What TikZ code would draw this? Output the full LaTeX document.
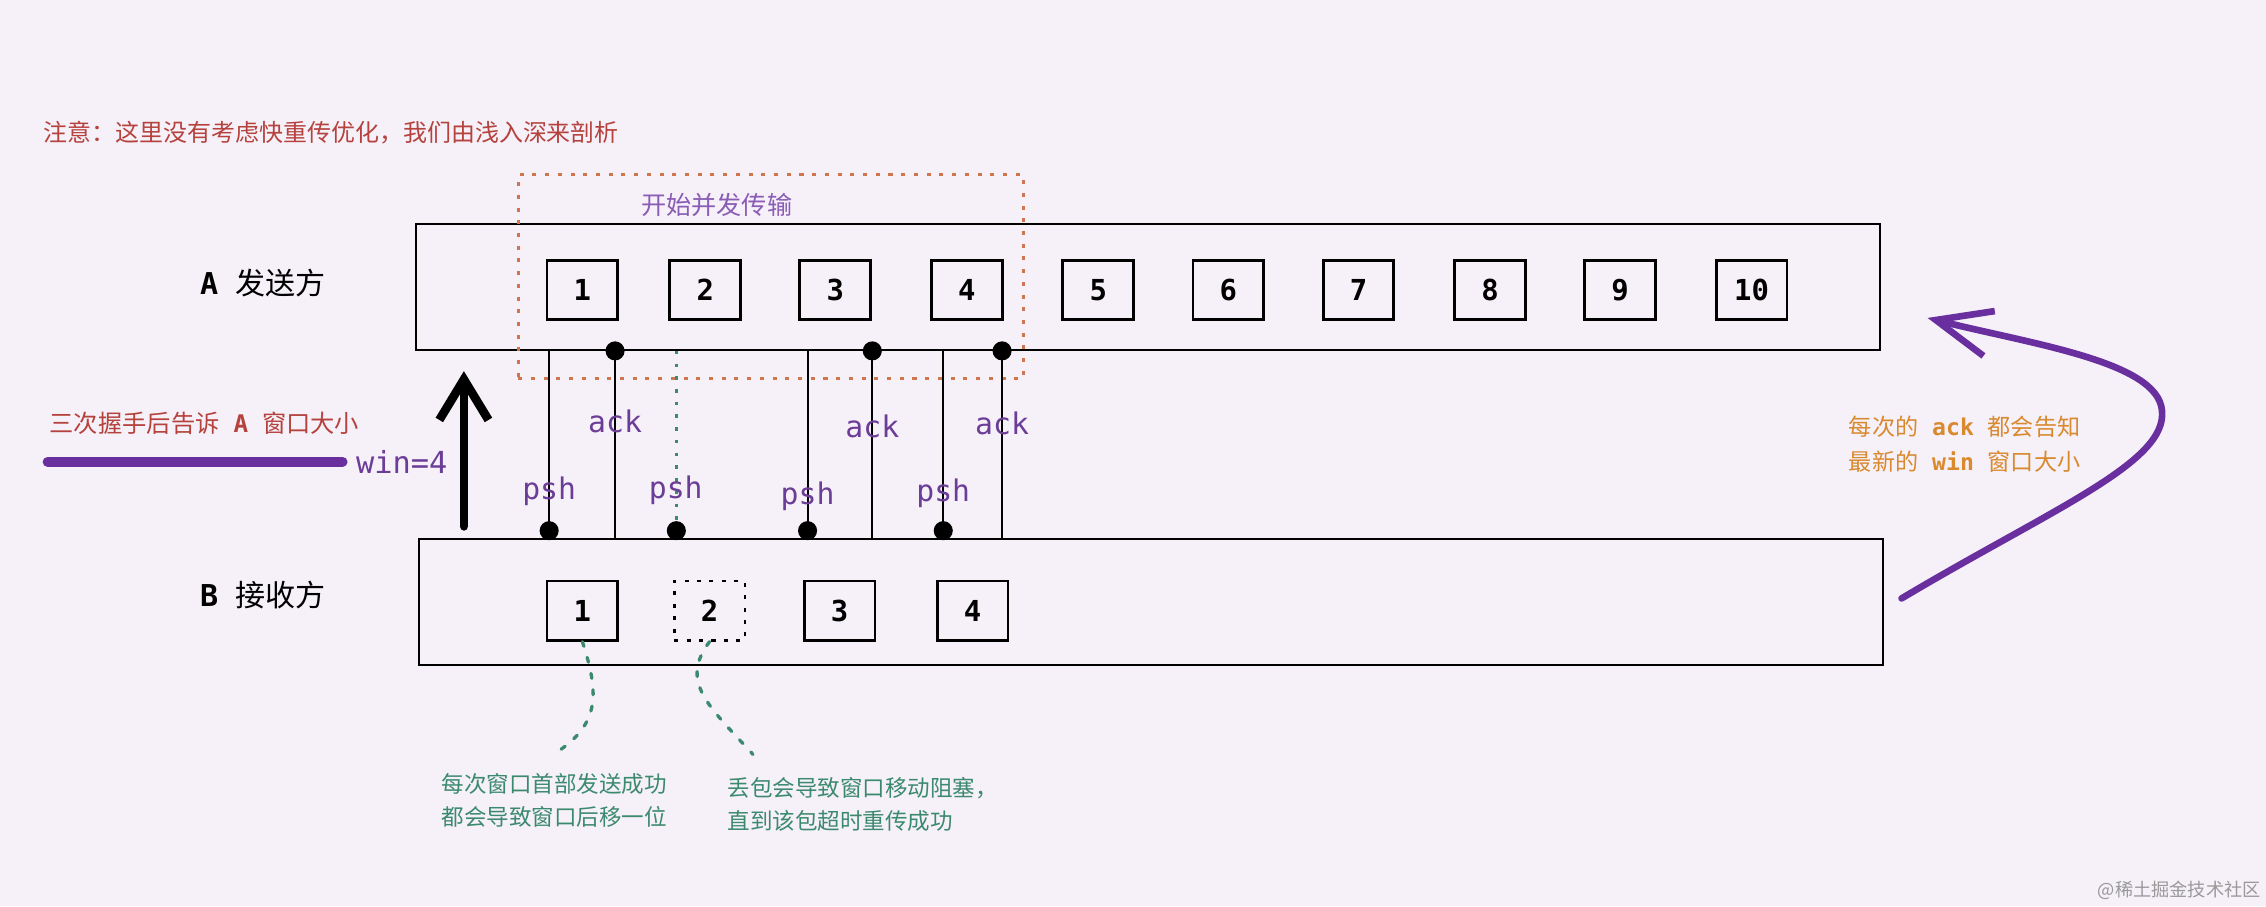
\documentclass[tikz,border=0pt]{standalone}
\usepackage{fontspec}
\setmainfont{Noto Sans CJK SC}
\newfontfamily\codefont{DejaVu Sans Mono}
\usetikzlibrary{arrows.meta,positioning,calc}
\definecolor{bgpurple}{HTML}{F6F0F9}
\definecolor{notered}{HTML}{B5423D}
\definecolor{tagpurple}{HTML}{6B3D96}
\definecolor{penpurple}{HTML}{6A2F9E}
\definecolor{flightpurple}{HTML}{8A5DB5}
\definecolor{hintteal}{HTML}{3C8A6E}
\definecolor{hintorange}{HTML}{D9892E}
\definecolor{dashorange}{HTML}{D0764F}

\tikzset{
  winbox/.style={draw, line width=0.8pt, minimum width=506.5pt, minimum height=43.5pt, inner sep=0pt},
  pkt/.style={draw, line width=1pt, minimum width=24.5pt, minimum height=20.5pt, inner sep=0pt,
    font=\codefont\bfseries\fontsize{10}{12}\selectfont},
  lostpkt/.style={dash pattern=on 1.4pt off 2.9pt},
  sidelabel/.style={inner sep=0pt, font=\fontsize{10.4}{12}\selectfont},
  seg/.style={line width=0.7pt},
  lostline/.style={hintteal, line width=0.9pt, dash pattern=on 1.2pt off 3.2pt},
  flight/.style={draw=dashorange, line width=1pt, dash pattern=on 1.4pt off 3pt,
    minimum width=174.7pt, minimum height=70.5pt, inner sep=0pt},
  tag/.style={text=tagpurple, inner sep=0pt, font=\codefont\fontsize{10.3}{12}\selectfont},
  pen/.style={line width=3pt, line cap=round},
  hintline/.style={hintteal, line width=1.15pt, line cap=round, dash pattern=on 1.7pt off 4pt},
  tealtext/.style={text=hintteal, inner sep=0pt, align=left, font=\fontsize{7.8}{11.5}\selectfont},
}

\begin{document}
\begin{tikzpicture}[x=0.5pt, y=-0.5pt]
  \fill[bgpurple] (0,0) rectangle (1568,627);
  \useasboundingbox (0,0) rectangle (1568,627);

  \node[inner sep=0pt, anchor=west, text=notered, font=\fontsize{8.3}{10}\selectfont] (note) at (29.5,92)
    {注意：这里没有考虑快重传优化，我们由浅入深来剖析};

  % sender and receiver
  \node[winbox] (A) at (794.5,198.5) {};
  \node[winbox] (B) at (796.5,416.5) {};
  \node[sidelabel] (Aname) at (182,196) {{\codefont\bfseries A}\hspace{6pt}发送方};
  \node[sidelabel] (Bname) at (182,412) {{\codefont\bfseries B}\hspace{6pt}接收方};

  \foreach \n/\x in {1/403,2/488,3/578,4/669,5/760,6/850,7/940,8/1031,9/1121,10/1212}
    \node[pkt] (a\n) at (\x,200.5) {\n};
  \node[pkt] (b1) at (403,422.5) {1};
  \node[pkt,lostpkt] (b2) at (491,422.5) {2};
  \node[pkt] (b3) at (581,422.5) {3};
  \node[pkt] (b4) at (673,422.5) {4};

  % window of 4 in flight
  \node[flight] (flight) at (533.3,191.5) {};
  \node[inner sep=0pt, text=flightpurple, font=\fontsize{8.7}{10}\selectfont] (flightname) at (496,142) {开始并发传输};

  % psh goes down, ack comes back
  \foreach \k/\x/\ty in {1/380/340,3/558.8/343.7,4/652.7/341.4} {
    \coordinate (psh\k) at (\x,0);
    \draw[seg] (psh\k |- A.south) -- (psh\k |- B.north);
    \fill (psh\k |- B.north) ++(0,-5) circle (3.3pt);
    \node[tag] (pshtag\k) at (\x,\ty) {psh};
  }
  \coordinate (psh2) at (468,0);
  \draw[lostline] (psh2 |- A.south) -- (psh2 |- B.north);
  \fill (psh2 |- B.north) ++(0,-5) circle (3.3pt);
  \node[tag] (pshtag2) at (467.6,339) {psh};

  \foreach \k/\x/\ty in {1/425.6/291.8,3/603.6/295.3,4/693.4/292.8} {
    \coordinate (ack\k) at (\x,0);
    \draw[seg] (ack\k |- A.south) -- (ack\k |- B.north);
    \fill (ack\k |- A.south) circle (3.3pt);
    \node[tag] (acktag\k) at (\x,\ty) {ack};
  }

  % handshake tells A the window
  \node[tag, font=\codefont\fontsize{10.5}{12}\selectfont] (win) at (278,319.5) {win=4};
  \coordinate (winL) at (33,319.5);
  \draw[pen, penpurple, line width=3.5pt, shorten >=4.5pt] (winL) -- (win.west);
  \node[inner sep=0pt, anchor=west, text=notered, font=\fontsize{8.4}{10}\selectfont] (hs) at (34,293)
    {三次握手后告诉\hspace{4.8pt}{\codefont\bfseries A}\hspace{4.8pt}窗口大小};
  \coordinate (up) at (321,0);
  \draw[pen, -{Straight Barb[length=14pt,width=17pt]}, shorten <=4pt, shorten >=7pt]
    (up |- B.north) -- (up |- A.south);

  % every ack updates win
  \draw[pen, penpurple, line width=2.3pt, -{Straight Barb[length=19pt,width=16pt]}]
    ([xshift=6pt,yshift=1.2pt]B.east) .. controls (1420,352) and (1500,320) .. (1496,284)
    .. controls (1493,250) and (1405,238) .. ([xshift=16pt,yshift=-10.75pt]A.east);
  \node[inner sep=0pt, anchor=west, align=left, text=hintorange, font=\fontsize{8}{12.1}\selectfont] (acknote) at (1279,307.5)
    {每次的\hspace{4.8pt}{\codefont\bfseries ack}\hspace{4.8pt}都会告知\\
     最新的\hspace{4.8pt}{\codefont\bfseries win}\hspace{4.8pt}窗口大小};

  % notes under the receiver
  \coordinate (n1end) at (386,520);
  \coordinate (n2end) at (521,522);
  \draw[hintline] (b1.south) .. controls (414,478) and (416,500) .. (n1end);
  \draw[hintline] (b2.south) .. controls (470,472) and (490,488) .. (n2end);
  \node[tealtext] (n1) at (383.5,554) {每次窗口首部发送成功\\都会导致窗口后移一位};
  \node[tealtext, anchor=west] (n2) at (503,556.5) {丢包会导致窗口移动阻塞，\\直到该包超时重传成功};

  \node[inner sep=0pt, text=black!40, font=\fontsize{6.3}{8}\selectfont] (wm) at (1508,616) {@稀土掘金技术社区};
\end{tikzpicture}
\end{document}
